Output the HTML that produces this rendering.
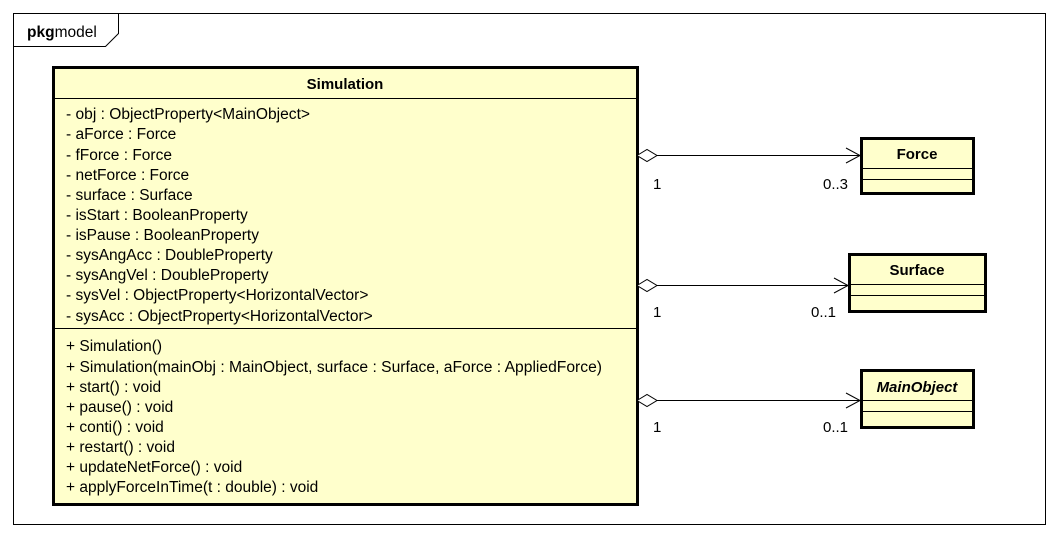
<!DOCTYPE html>
<html><head><meta charset="utf-8"><style>
html,body{margin:0;padding:0;background:#fff;}
svg{display:block;font-family:"Liberation Sans",Arial,sans-serif;}
</style></head><body>
<svg width="1058" height="538" viewBox="0 0 1058 538" xmlns="http://www.w3.org/2000/svg">
<rect x="13.5" y="13.5" width="1032" height="511" fill="#fff" stroke="#000" stroke-width="1"/>
<path d="M13.5 46.5 H105.5 L118.5 33.5 V13.5" fill="none" stroke="#000"/>
<text x="27" y="37" font-size="15.5"><tspan font-weight="bold">pkg</tspan>model</text>

<rect x="53.5" y="67.5" width="584" height="437" fill="#FFFFCC" stroke="#000" stroke-width="3"/>
<line x1="53" y1="98.5" x2="637" y2="98.5" stroke="#000"/>
<line x1="53" y1="328.5" x2="637" y2="328.5" stroke="#000"/>
<text x="345" y="89" font-size="15" font-weight="bold" text-anchor="middle">Simulation</text>
<g font-size="15.5">
<text x="66" y="119" textLength="244" lengthAdjust="spacingAndGlyphs">- obj : ObjectProperty&lt;MainObject&gt;</text>
<text x="66" y="139">- aForce : Force</text>
<text x="66" y="160">- fForce : Force</text>
<text x="66" y="180">- netForce : Force</text>
<text x="66" y="200">- surface : Surface</text>
<text x="66" y="220">- isStart : BooleanProperty</text>
<text x="66" y="240">- isPause : BooleanProperty</text>
<text x="66" y="260">- sysAngAcc : DoubleProperty</text>
<text x="66" y="280">- sysAngVel : DoubleProperty</text>
<text x="66" y="300">- sysVel : ObjectProperty&lt;HorizontalVector&gt;</text>
<text x="66" y="321">- sysAcc : ObjectProperty&lt;HorizontalVector&gt;</text>
<text x="66" y="351">+ Simulation()</text>
<text x="66" y="372" textLength="536" lengthAdjust="spacingAndGlyphs">+ Simulation(mainObj : MainObject, surface : Surface, aForce : AppliedForce)</text>
<text x="66" y="392">+ start() : void</text>
<text x="66" y="412">+ pause() : void</text>
<text x="66" y="432">+ conti() : void</text>
<text x="66" y="452">+ restart() : void</text>
<text x="66" y="472">+ updateNetForce() : void</text>
<text x="66" y="492">+ applyForceInTime(t : double) : void</text>
</g>

<g stroke="#000" fill="none" stroke-width="1">
<line x1="657" y1="155.5" x2="860" y2="155.5"/>
<path d="M637 155.5 L647 149.5 L657 155.5 L647 161.5 Z" fill="#fff"/>
<path d="M846 148 L860 155.5 L846 163"/>
<line x1="657" y1="285.5" x2="848" y2="285.5"/>
<path d="M637 285.5 L647 279.5 L657 285.5 L647 291.5 Z" fill="#fff"/>
<path d="M834 278 L848 285.5 L834 293"/>
<line x1="657" y1="400.5" x2="860" y2="400.5"/>
<path d="M637 400.5 L647 394.5 L657 400.5 L647 406.5 Z" fill="#fff"/>
<path d="M846 393 L860 400.5 L846 408"/>
</g>
<g font-size="15">
<text x="653" y="189">1</text><text x="823" y="189">0..3</text>
<text x="653" y="317">1</text><text x="811" y="317">0..1</text>
<text x="653" y="432">1</text><text x="823" y="432">0..1</text>
</g>

<rect x="861.5" y="138.5" width="112" height="55" fill="#FFFFCC" stroke="#000" stroke-width="3"/>
<line x1="861" y1="168.5" x2="974" y2="168.5" stroke="#000"/>
<line x1="861" y1="179.5" x2="974" y2="179.5" stroke="#000"/>
<text x="917" y="159" font-size="15" font-weight="bold" text-anchor="middle">Force</text>

<rect x="849.5" y="254.5" width="136" height="57" fill="#FFFFCC" stroke="#000" stroke-width="3"/>
<line x1="849" y1="284.5" x2="986" y2="284.5" stroke="#000"/>
<line x1="849" y1="295.5" x2="986" y2="295.5" stroke="#000"/>
<text x="917" y="275" font-size="15" font-weight="bold" text-anchor="middle">Surface</text>

<rect x="861.5" y="370.5" width="112" height="57" fill="#FFFFCC" stroke="#000" stroke-width="3"/>
<line x1="861" y1="400.5" x2="974" y2="400.5" stroke="#000"/>
<line x1="861" y1="411.5" x2="974" y2="411.5" stroke="#000"/>
<text x="917" y="392" font-size="15" font-weight="bold" font-style="italic" text-anchor="middle">MainObject</text>
</svg>
</body></html>
